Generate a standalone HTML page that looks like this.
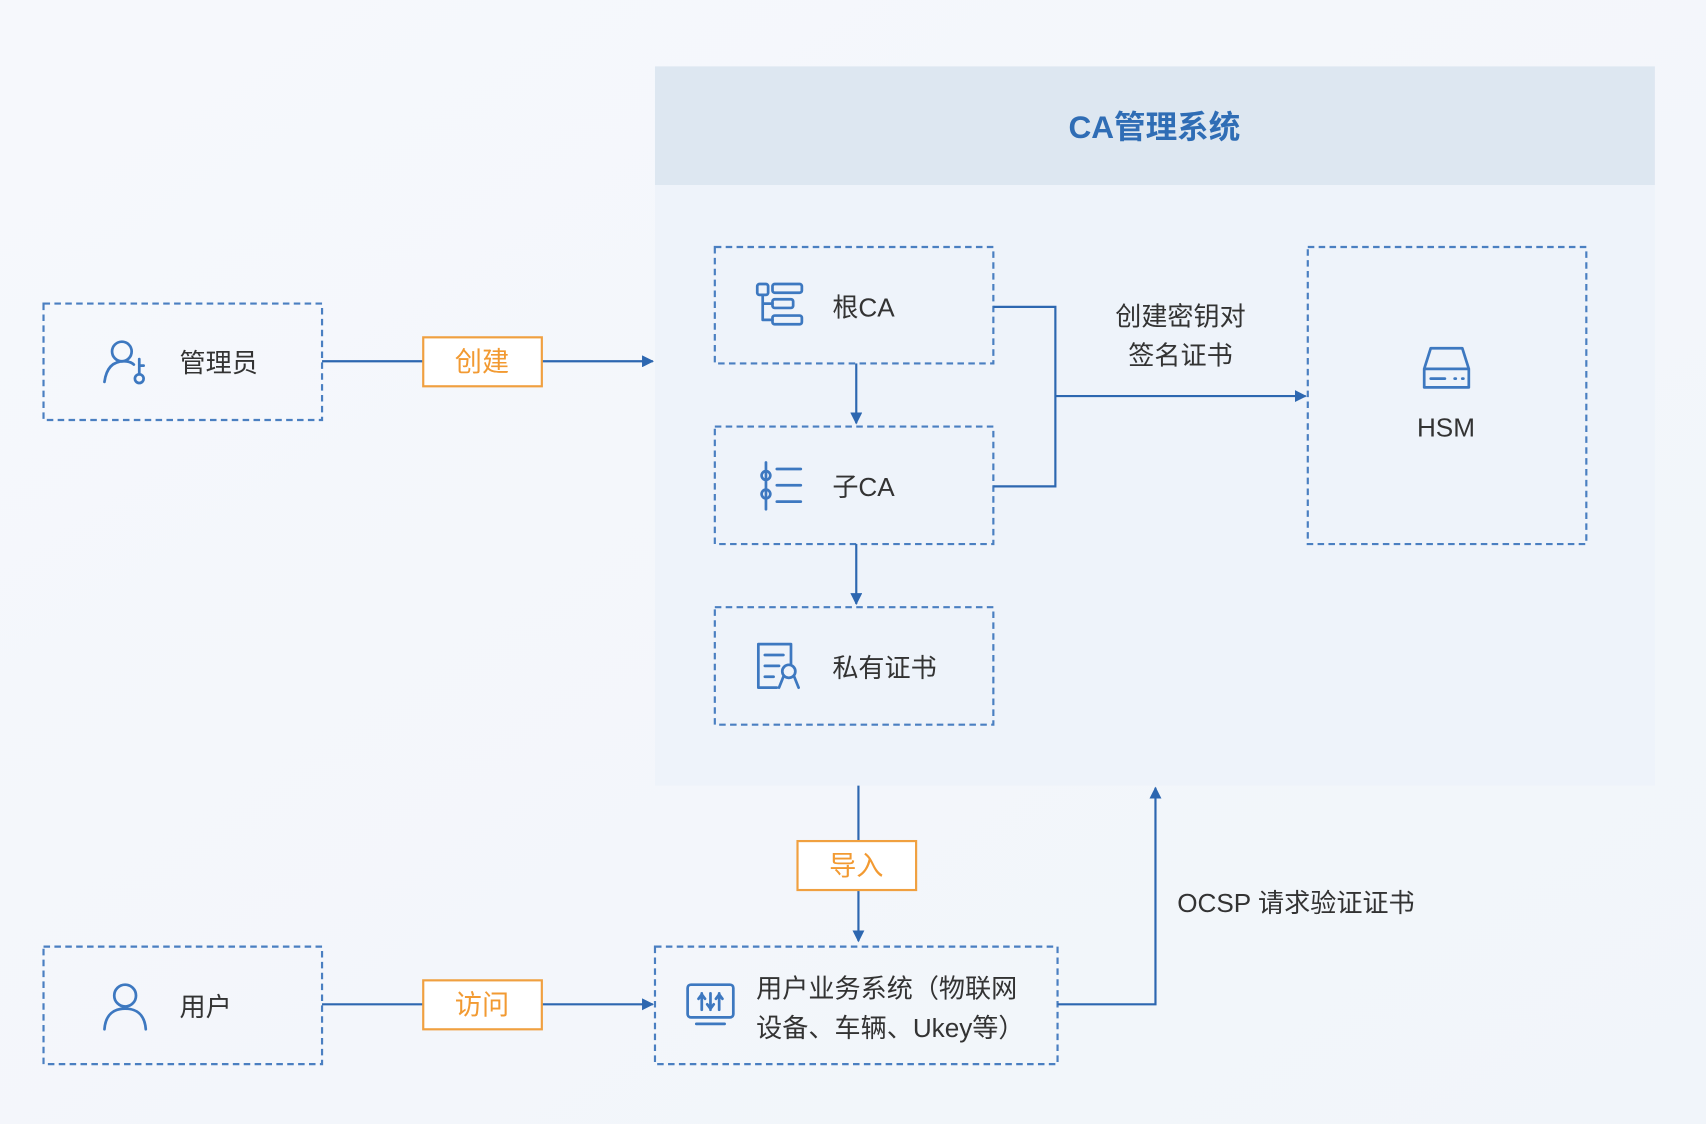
<!DOCTYPE html>
<html><head><meta charset="utf-8"><style>
html,body{margin:0;padding:0;width:1706px;height:1124px;overflow:hidden;background:#f4f7fb}
svg{display:block}
text{font-family:"Liberation Sans","Noto Sans CJK SC",sans-serif}
</style></head><body>
<svg width="1706" height="1124" viewBox="0 0 1568 1033" xmlns="http://www.w3.org/2000/svg">
<defs>
<linearGradient id="bg" x1="0" y1="0" x2="1" y2="1"><stop offset="0" stop-color="#f6f8fc"/><stop offset="1" stop-color="#f1f5fa"/></linearGradient>
<marker id="ar" viewBox="0 0 10 10" refX="9" refY="5" markerWidth="11" markerHeight="11" markerUnits="userSpaceOnUse" orient="auto"><path d="M0,0 L10,5 L0,10 z" fill="#2d67b0"/></marker>
</defs>
<rect width="1568" height="1033" fill="url(#bg)"/>
<rect x="602" y="61" width="919" height="661" fill="#eef3fa"/>
<rect x="602" y="61" width="919" height="109" fill="#dde7f1"/>
<text x="1061" y="127" text-anchor="middle" font-size="29" font-weight="600" fill="#2f6db5">CA管理系统</text>

<g fill="none" stroke="#4a7fc1" stroke-width="2" stroke-dasharray="6 4">
<rect x="40" y="279" width="256" height="107"/>
<rect x="657" y="227" width="256" height="107"/>
<rect x="657" y="392" width="256" height="108"/>
<rect x="657" y="558" width="256" height="108"/>
<rect x="1202" y="227" width="256" height="273"/>
<rect x="40" y="870" width="256" height="108"/>
<rect x="602" y="870" width="370" height="108"/>
</g>

<g fill="none" stroke="#2d67b0" stroke-width="2">
<line x1="296" y1="332" x2="600" y2="332" marker-end="url(#ar)"/>
<line x1="296" y1="923" x2="600" y2="923" marker-end="url(#ar)"/>
<line x1="787" y1="334" x2="787" y2="389" marker-end="url(#ar)"/>
<line x1="787" y1="500" x2="787" y2="555" marker-end="url(#ar)"/>
<polyline points="913,282 970,282 970,447 913,447"/>
<line x1="970" y1="364" x2="1200" y2="364" marker-end="url(#ar)"/>
<line x1="789" y1="722" x2="789" y2="865" marker-end="url(#ar)"/>
<polyline points="972,923 1062,923 1062,724" marker-end="url(#ar)"/>
</g>

<g fill="#fff" stroke="#f0a040" stroke-width="2">
<rect x="389" y="310" width="109" height="45"/>
<rect x="389" y="901" width="109" height="45"/>
<rect x="733" y="773" width="109" height="45"/>
</g>
<g font-size="25" fill="#f29a32" text-anchor="middle">
<text x="443" y="341">创建</text>
<text x="443" y="932">访问</text>
<text x="787" y="804">导入</text>
</g>

<g font-size="24" fill="#333">
<text x="165" y="342">管理员</text>
<text x="765" y="291">根CA</text>
<text x="765" y="456">子CA</text>
<text x="765" y="622">私有证书</text>
<text x="1329" y="401" text-anchor="middle">HSM</text>
<text x="165" y="934">用户</text>
<text x="695" y="917">用户业务系统（物联网</text>
<text x="695" y="953">设备、车辆、Ukey等）</text>
<text x="1085" y="299" text-anchor="middle">创建密钥对</text>
<text x="1085" y="335" text-anchor="middle">签名证书</text>
<text x="1082" y="838">OCSP 请求验证证书</text>
</g>

<g fill="none" stroke="#3d78c0" stroke-width="2.5" stroke-linecap="round" stroke-linejoin="round">
<circle cx="112" cy="323" r="9"/>
<path d="M96,351 C98,336 106,332 114,332 C118,332 121,333 123,335"/>
<circle cx="128" cy="348" r="4"/><path d="M128,344 V330 M128,336 h4"/>
<rect x="696" y="261" width="10" height="10" rx="2"/>
<rect x="710" y="261" width="27" height="8" rx="2"/>
<rect x="710" y="275" width="19" height="8" rx="2"/>
<rect x="710" y="290" width="27" height="8" rx="2"/>
<path d="M701,271 V294 H710 M701,279 H710"/>
<path d="M704,425 V468"/><circle cx="704" cy="437" r="4"/><circle cx="704" cy="454" r="4"/>
<path d="M714,431 H736 M714,446 H736 M714,461 H736"/>
<path d="M727,610 V592 H697 V632 H714"/>
<path d="M703,602 H720 M703,612 H716 M703,622 H711"/>
<circle cx="725" cy="617" r="6"/><path d="M720,622 L716,632 M730,622 L734,632"/>
<path d="M1309,339 L1315,320 H1344 L1350,339 V356 H1309 Z M1309,339 H1350"/>
<path d="M1315,348 H1328 M1337,348 h1 M1344,348 h1"/>
<circle cx="115" cy="915" r="10"/>
<path d="M96,946 C97,932 105,927 115,927 C125,927 133,932 134,946"/>
<rect x="632" y="905" width="42" height="30" rx="3"/>
<path d="M640,941 H666 M645,913 V928 M653,913 V928 M661,913 V928 M642,918 l3,-4 3,4 M650,923 l3,4 3,-4 M658,918 l3,-4 3,4"/>
</g>
</svg>
</body></html>
